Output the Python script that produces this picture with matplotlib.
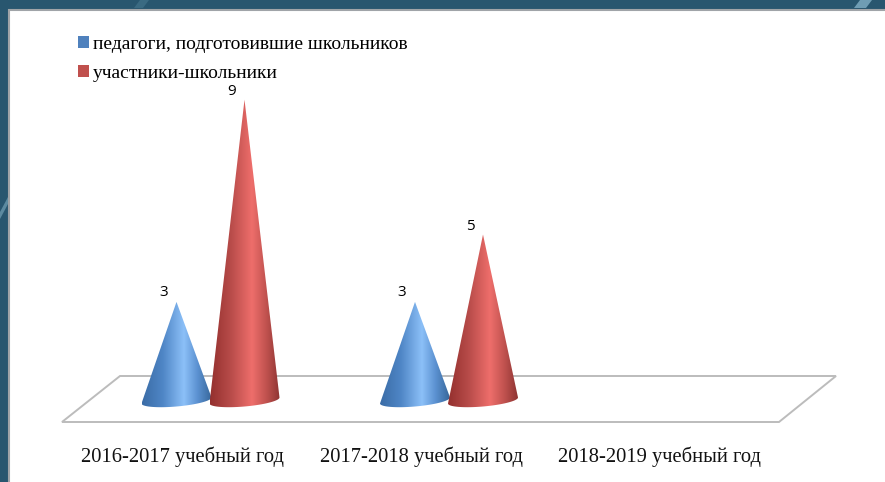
import matplotlib
matplotlib.use('Agg')
import matplotlib.pyplot as plt
import numpy as np
from matplotlib.patches import Patch, Polygon
from matplotlib.path import Path

W, H = 885, 482

categories = ['2016-2017 учебный год', '2017-2018 учебный год', '2018-2019 учебный год']
series_names = ['педагоги, подготовившие школьников', 'участники-школьники']
teachers = [3, 3, 0]
students = [9, 5, 0]

serif = 'Liberation Serif'
label_font = 'Open Sans'

# one axes over the whole picture, scale taken from the cone heights
x0_px, cat_px = 210.5, 238.5
y0_px, unit_px = 403.0, 33.7

fig = plt.figure(figsize=(W / 100, H / 100), dpi=100, facecolor='#28566f')
ax = fig.add_axes([0, 0, 1, 1])
ax.set_xlim(-x0_px / cat_px, (W - x0_px) / cat_px)
ax.set_ylim((y0_px - H) / unit_px, y0_px / unit_px)
ax.axis('off')


def to_x(p):
    return (p - x0_px) / cat_px


def to_y(p):
    return (y0_px - p) / unit_px


# frame of the slide
ax.add_patch(Polygon([[to_x(9), to_y(9.5)], [to_x(887), to_y(9.5)], [to_x(887), to_y(484)], [to_x(9), to_y(484)]],
                     facecolor='white', edgecolor='#a0a4a8', lw=1.5, zorder=1))
# lighter streaks in the background
for pts, c in [([[140, 0], [149, 0], [143, 8], [134, 8]], '#3a6a82'),
               ([[860, 0], [872, 0], [866, 8], [854, 8]], '#6f9db4'),
               ([[0, 212], [8, 197], [8, 204], [0, 219]], '#5c8aa0')]:
    ax.add_patch(Polygon([[to_x(a), to_y(b)] for a, b in pts], facecolor=c, edgecolor='none', zorder=0.5))

# floor
floor = [[62, 422], [120, 376], [836, 376], [779, 422]]
ax.add_patch(Polygon([[to_x(a), to_y(b)] for a, b in floor], closed=True, facecolor='white',
                     edgecolor='#bcbcbc', lw=1.4, zorder=2))


def cone(xc, value, stops, z):
    if value == 0:
        return
    half = 35 / cat_px
    b = 6.0 / unit_px
    tilt = 3.0 / unit_px
    yc = to_y(400.5)
    t = np.linspace(np.pi, 2 * np.pi, 40)
    ex = xc + half * np.cos(t)
    ey = yc + b * np.sin(t) + tilt * np.cos(t)
    verts = [(xc, value)] + list(zip(ex, ey)) + [(xc, value)]
    path = Path(verts)
    pos = [s[0] for s in stops]
    rgb = np.array([matplotlib.colors.to_rgb(s[1]) for s in stops])
    u = np.linspace(0, 1, 256)
    grad = np.stack([np.interp(u, pos, rgb[:, i]) for i in range(3)], axis=-1)[None, :, :]
    im = ax.imshow(grad, extent=[xc - half, xc + half, to_y(415), value], aspect='auto',
                   interpolation='bilinear', zorder=z)
    im.set_clip_path(path, transform=ax.transData)


blue_stops = [(0, '#3a6ca6'), (0.3, '#4f86c6'), (0.6, '#8cc0f8'), (0.8, '#5a90d0'), (1, '#376699')]
red_stops = [(0, '#94302e'), (0.3, '#b84c4a'), (0.6, '#ee6e6b'), (0.8, '#c25350'), (1, '#8e3432')]
offset = 34 / cat_px

xlim, ylim = ax.get_xlim(), ax.get_ylim()
for i in range(len(categories)):
    cone(i - offset, teachers[i], blue_stops, 3)
    cone(i + offset, students[i], red_stops, 4)
    if teachers[i]:
        ax.text(i - offset - 13 / cat_px, teachers[i] + 9 / unit_px, str(teachers[i]), family=label_font,
                fontsize=11, ha='center', va='center', color='black', zorder=6)
    if students[i]:
        ax.text(i + offset - 13 / cat_px, students[i] + 8 / unit_px, str(students[i]), family=label_font,
                fontsize=11, ha='center', va='center', color='black', zorder=6)
    ax.text(i - 28 / cat_px, to_y(456.5), categories[i], family=serif, fontsize=14.8,
            ha='center', va='center', color='#111111', zorder=6)
ax.set_xlim(xlim)
ax.set_ylim(ylim)

handles = [Patch(facecolor='#4f81bd'), Patch(facecolor='#c0504d')]
leg = ax.legend(handles, series_names, loc='upper left', bbox_to_anchor=(78 / W, 1 - 36 / H), frameon=False,
                prop={'family': serif, 'size': 14}, handlelength=0.57, handleheight=0.57, handletextpad=0.2,
                labelspacing=0.62, borderpad=0, borderaxespad=0)
leg.set_zorder(6)

fig.savefig('out.png', dpi=100)
